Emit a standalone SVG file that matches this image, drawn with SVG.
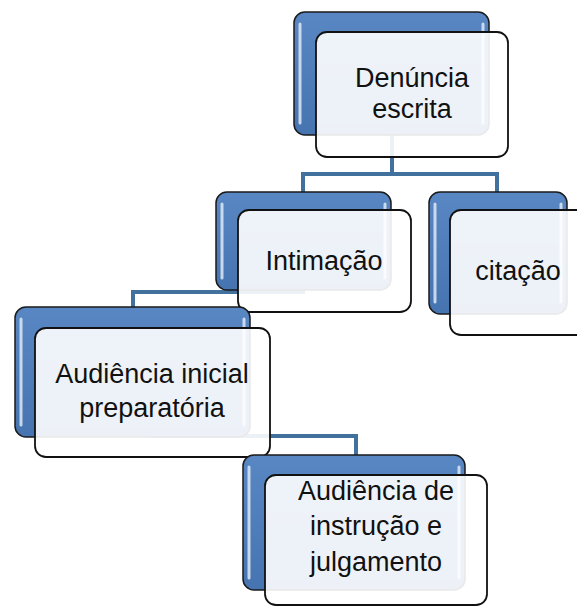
<svg xmlns="http://www.w3.org/2000/svg" width="577" height="607" viewBox="0 0 577 607">
<defs>
<linearGradient id="blueGrad" x1="0" y1="0" x2="0" y2="1">
<stop offset="0" stop-color="#5887c4"/>
<stop offset="1" stop-color="#4674b0"/>
</linearGradient>
<style>
.back{fill:url(#blueGrad);stroke:#1a1a1a;stroke-width:1.5}
.stripe{stroke:#dfe9f6;stroke-width:3;stroke-linecap:round;opacity:0.85}
.front{fill:#ffffff;fill-opacity:0.9;stroke:#111111;stroke-width:1.8}
.lbl{font-family:"Liberation Sans",Arial,sans-serif;font-size:27px;fill:#111111;text-anchor:middle}
.conn{fill:none;stroke:#41719c;stroke-width:4}
</style>
</defs>
<rect width="577" height="607" fill="#ffffff"/>
<g id="connectors">
<path class="conn" d="M392 135 V174"/>
<path class="conn" d="M303 192 V174 H497 V192"/>
<path class="conn" d="M303 288 V292 H133 V307"/>
<path class="conn" d="M150 436 H356 V455"/>
</g>
<g id="node-denuncia">
<rect class="back" x="294" y="12" width="195" height="123" rx="11"/>
<line class="stripe" x1="300" y1="24" x2="300" y2="123"/>
<line class="stripe" x1="483" y1="24" x2="483" y2="123"/>
<rect class="front" x="316" y="32" width="192" height="125" rx="11"/>
<text class="lbl" x="412" y="87">Denúncia</text>
<text class="lbl" x="412" y="118">escrita</text>
</g>
<g id="node-intimacao">
<rect class="back" x="216" y="192" width="175" height="98" rx="11"/>
<line class="stripe" x1="222" y1="204" x2="222" y2="278"/>
<line class="stripe" x1="385" y1="204" x2="385" y2="278"/>
<rect class="front" x="238" y="210" width="173" height="102" rx="11"/>
<text class="lbl" x="324" y="270">Intimação</text>
</g>
<g id="node-citacao">
<rect class="back" x="429" y="192" width="138" height="122" rx="11"/>
<line class="stripe" x1="435" y1="204" x2="435" y2="302"/>
<line class="stripe" x1="561" y1="204" x2="561" y2="302"/>
<rect class="front" x="450" y="210" width="140" height="125" rx="11"/>
<text class="lbl" x="518" y="280">citação</text>
</g>
<g id="node-audiencia-inicial">
<rect class="back" x="15" y="307" width="235" height="130" rx="11"/>
<line class="stripe" x1="21" y1="319" x2="21" y2="425"/>
<line class="stripe" x1="244" y1="319" x2="244" y2="425"/>
<rect class="front" x="35" y="328" width="235" height="129" rx="11"/>
<text class="lbl" x="152" y="383">Audiência inicial</text>
<text class="lbl" x="152" y="417">preparatória</text>
</g>
<g id="node-audiencia-instrucao">
<rect class="back" x="243" y="455" width="222" height="135" rx="11"/>
<line class="stripe" x1="249" y1="467" x2="249" y2="578"/>
<line class="stripe" x1="459" y1="467" x2="459" y2="578"/>
<rect class="front" x="265" y="475" width="222" height="130" rx="11"/>
<text class="lbl" x="376" y="500">Audiência de</text>
<text class="lbl" x="376" y="535">instrução e</text>
<text class="lbl" x="376" y="571">julgamento</text>
</g>
</svg>
